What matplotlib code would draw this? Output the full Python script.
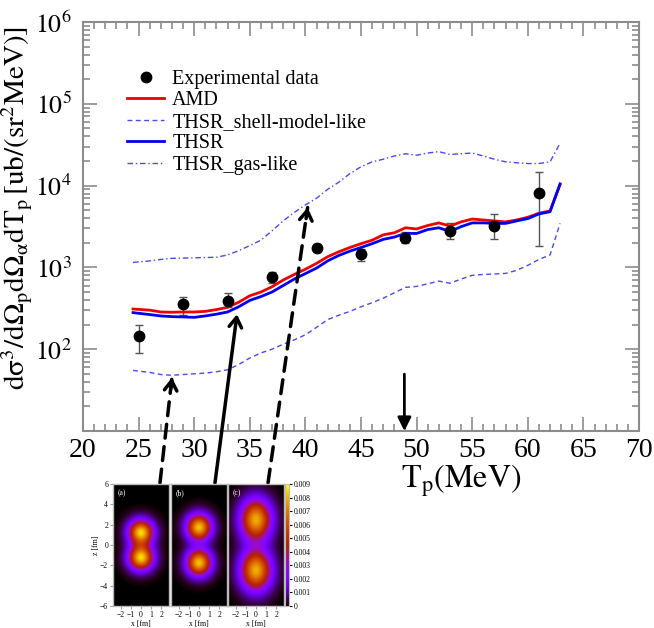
import numpy as np
import matplotlib.pyplot as plt
from matplotlib.ticker import MultipleLocator, LogLocator, NullFormatter, FixedLocator, FixedFormatter

plt.rcParams['font.family'] = ['Liberation Serif', 'DejaVu Serif']
plt.rcParams['mathtext.fontset'] = 'stix'

# ---- experimental points ----
t_exp = np.array([25, 29, 33, 37, 41, 45, 49, 53, 57, 61])
sig_exp = np.array([145, 355, 385, 760, 1740, 1450, 2300, 2800, 3250, 8200])
sig_lo = np.array([90, 260, 325, 640, 1550, 1200, 2000, 2200, 2200, 1850])
sig_hi = np.array([200, 430, 480, 870, 1950, 1700, 2700, 3450, 4450, 14500])

# ---- calculations ----
t_calc = np.array([24.5, 26, 27, 28, 29, 30, 31, 32, 33, 34, 35, 36, 37, 38, 39, 40,
                   41, 42, 43, 44, 45, 46, 47, 48, 49, 50, 51, 52, 53, 54, 55, 56,
                   57, 58, 59, 60, 61, 62, 62.9])
amd = np.array([310, 300, 285, 283, 285, 285, 290, 305, 325, 375, 450, 500, 580, 700, 820, 950,
                1120, 1350, 1550, 1750, 1950, 2150, 2500, 2650, 3050, 2950, 3250, 3500, 3200, 3600, 3900, 3800,
                3700, 3600, 3800, 4100, 4600, 4900, 10300])
thsr = np.array([280, 265, 255, 250, 248, 245, 255, 268, 285, 330, 395, 440, 500, 600, 720, 840,
                 980, 1200, 1400, 1580, 1750, 1950, 2200, 2350, 2600, 2600, 2900, 3050, 2750, 3150, 3500, 3500,
                 3450, 3450, 3700, 3950, 4500, 4800, 10500])
thsr_shell = np.array([55, 52, 49, 48, 49, 50, 51, 53, 56, 65, 78, 90, 100, 115, 130, 150,
                       185, 230, 260, 290, 330, 370, 420, 490, 570, 585, 630, 680, 640, 720, 800, 820,
                       830, 845, 920, 1060, 1250, 1420, 3450])
thsr_gas = np.array([1150, 1200, 1250, 1290, 1300, 1310, 1320, 1330, 1420, 1600, 1850, 2150, 2800, 3700, 4700, 5800,
                     7000, 9000, 11000, 14000, 17000, 19500, 21000, 23000, 24500, 23500, 25000, 26000, 24000, 24500, 25000, 23000,
                     21000, 19500, 19000, 18600, 18600, 19500, 33000])

# ---- inset density panels: cluster z-centre, widths, peak density ----
panel_tags = ["(a)", "(b)", "(c)"]
clus_z = [1.25, 1.75, 2.5]
clus_sx = [0.85, 0.85, 1.05]
clus_sz = [0.85, 0.9, 1.4]
clus_amp = [0.0085, 0.0082, 0.0079]

gray = '#8c8c8c'

fig = plt.figure(figsize=(6.54, 6.28), dpi=100)
ax = fig.add_axes([0.1269, 0.3137, 0.8502, 0.6513])

ax.errorbar(t_exp, sig_exp, yerr=[sig_exp - sig_lo, sig_hi - sig_exp], fmt='none',
            ecolor='#555555', elinewidth=1, capsize=3, capthick=1)
ax.plot(t_exp, sig_exp, 'o', color='k', ms=7.5, label='Experimental data', zorder=4)
ax.plot(t_calc, amd, color='#ee0000', lw=2, label='AMD')
ax.plot(t_calc, thsr_shell, color='#4a4ae8', lw=1, ls=(0, (3.5, 2.5)), label='THSR_shell-model-like')
ax.plot(t_calc, thsr, color='#0000ee', lw=2, label='THSR')
ax.plot(t_calc, thsr_gas, color='#4a4ae8', lw=1, ls=(0, (4, 2, 1, 2)), label='THSR_gas-like')

ax.set_yscale('log')
ax.set_xlim(20, 70)
ax.set_ylim(10, 1e6)
ax.xaxis.set_major_locator(MultipleLocator(5))
ax.xaxis.set_minor_locator(MultipleLocator(1))
ax.yaxis.set_major_locator(FixedLocator([1e1, 1e2, 1e3, 1e4, 1e5, 1e6]))
ax.yaxis.set_major_formatter(FixedFormatter(['', r'$10^2$', r'$10^3$', r'$10^4$', r'$10^5$', r'$10^6$']))
ax.yaxis.set_minor_locator(LogLocator(base=10, subs=np.arange(2, 10)))
ax.yaxis.set_minor_formatter(NullFormatter())

for s in ax.spines.values():
    s.set_color(gray)
    s.set_linewidth(1.5)
ax.tick_params(which='both', direction='in', top=True, right=True, color=gray, width=1.2,
               labelsize=20, pad=5)
ax.tick_params(axis='y', labelsize=18.5, pad=8)
ax.tick_params(which='major', length=10)
ax.tick_params(which='minor', length=5)

ax.set_xlabel(r'$\mathrm{T_p(MeV)}$', fontsize=23)
ax.xaxis.set_label_coords(0.68, -0.078)
ax.set_ylabel(r'$\mathrm{d\sigma^3/d\Omega_p d\Omega_\alpha dT_p\,[ub/(sr^2MeV)]}$', fontsize=21)
ax.yaxis.set_label_coords(-0.086, 0.545)

ax.legend(loc='upper left', bbox_to_anchor=(0.079, 0.883), frameon=False, fontsize=14.5,
          borderpad=0, borderaxespad=0, labelspacing=0.12, handlelength=1.85, handletextpad=0.4)

# arrows from inset panels to curves
arrow_kw = dict(xycoords='data', textcoords='figure fraction', annotation_clip=False)
ax.annotate('', xy=(28.0, 45), xytext=(0.2446, 0.231),
            arrowprops=dict(arrowstyle='-', lw=2.5, ls=(0, (4, 2.5)), color='k', shrinkA=0, shrinkB=0), **arrow_kw)
ax.annotate('', xy=(28.0, 45), xytext=(-0.8, -8), textcoords='offset points', annotation_clip=False,
            arrowprops=dict(arrowstyle='->,head_length=0.7,head_width=0.45', lw=2.5, color='k', shrinkA=0, shrinkB=0))
ax.annotate('', xy=(33.85, 267), xytext=(0.3287, 0.231),
            arrowprops=dict(arrowstyle='->,head_length=0.7,head_width=0.45', lw=2.5, color='k', shrinkA=0, shrinkB=0), **arrow_kw)
ax.annotate('', xy=(40.2, 5400), xytext=(0.4098, 0.231),
            arrowprops=dict(arrowstyle='-', lw=2.5, ls=(0, (4, 2.5)), color='k', shrinkA=0, shrinkB=0), **arrow_kw)
ax.annotate('', xy=(40.2, 5400), xytext=(-1.1, -8), textcoords='offset points', annotation_clip=False,
            arrowprops=dict(arrowstyle='->,head_length=0.7,head_width=0.45', lw=2.5, color='k', shrinkA=0, shrinkB=0))
ax.annotate('', xy=(48.9, 10), xytext=(48.9, 49.5),
            arrowprops=dict(arrowstyle='-|>,head_length=0.8,head_width=0.4', lw=2, color='k', shrinkA=0, shrinkB=0))

# ---- inset: density distributions ----
xg = np.linspace(-2.75, 2.75, 120)
zg = np.linspace(-6, 6, 260)
X, Z = np.meshgrid(xg, zg)
lefts = [0.1728, 0.2615, 0.3486]
for i, tag in enumerate(panel_tags):
    iax = fig.add_axes([lefts[i], 0.035, 0.0856, 0.194])
    rho = sum(clus_amp[i] * np.exp(-0.5 * ((X / clus_sx[i]) ** 2 + ((Z - zc) / clus_sz[i]) ** 2))
              for zc in (clus_z[i], -clus_z[i]))
    im = iax.imshow(rho, extent=[-2.75, 2.75, -6, 6], origin='lower', aspect='auto',
                    cmap='gnuplot', vmin=0, vmax=0.009)
    iax.text(0.08, 0.96, tag, transform=iax.transAxes, color='w', fontsize=5.5, va='top')
    iax.set_xticks([-2, -1, 0, 1, 2])
    iax.set_yticks([-6, -4, -2, 0, 2, 4, 6])
    iax.tick_params(labelsize=5.5, length=2, pad=1.5, color='#999999')
    iax.set_xlabel('x [fm]', fontsize=5.5, labelpad=1)
    if i == 0:
        iax.set_ylabel('z [fm]', fontsize=5.5, labelpad=0)
    else:
        iax.set_yticklabels([])
        iax.tick_params(axis='y', length=0)
    for s in iax.spines.values():
        s.set_color('#bbbbbb')
        s.set_linewidth(1)

cax = fig.add_axes([0.4358, 0.035, 0.0065, 0.194])
cb = fig.colorbar(im, cax=cax)
cb.set_ticks(np.arange(0, 0.0091, 0.001))
cb.set_ticklabels(['0'] + ['%.3f' % v for v in np.arange(0.001, 0.0091, 0.001)])
cb.ax.tick_params(labelsize=5.5, length=2, pad=1)
cb.outline.set_edgecolor('#bbbbbb')

fig.savefig('out.png', dpi=100)
